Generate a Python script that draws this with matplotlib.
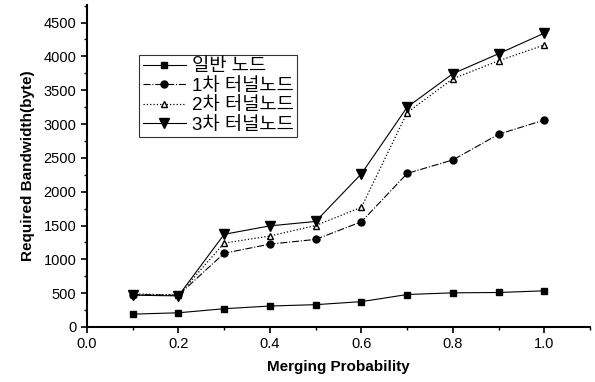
import matplotlib
matplotlib.use("Agg")
import matplotlib.pyplot as plt
from matplotlib.ticker import MultipleLocator

plt.rcParams['font.family'] = ['Liberation Sans', 'Noto Sans CJK KR', 'DejaVu Sans']

# merging probability
prob = [0.1, 0.2, 0.3, 0.4, 0.5, 0.6, 0.7, 0.8, 0.9, 1.0]

# required bandwidth (byte)
normal = [190, 210, 270, 310, 330, 375, 480, 505, 510, 535]
tunnel1 = [480, 470, 1090, 1225, 1295, 1555, 2270, 2470, 2850, 3060]
tunnel2 = [490, 470, 1240, 1345, 1500, 1770, 3170, 3670, 3935, 4170]
tunnel3 = [470, 460, 1370, 1495, 1560, 2265, 3250, 3745, 4040, 4345]

labels = ["일반 노드", "1차 터널노드", "2차 터널노드", "3차 터널노드"]

#-------------------------------------------------------------
fig = plt.figure(figsize=(5.95, 3.82), dpi=100)
ax = fig.add_axes([0.146, 0.144, 0.846, 0.843])

ax.plot(prob, normal, color="black", ls="-", lw=0.8,
        marker="s", ms=5, label=labels[0])
ax.plot(prob, tunnel1, color="black", ls="-.", lw=0.8,
        marker="o", ms=5, label=labels[1])
ax.plot(prob, tunnel2, color="black", ls=":", lw=0.9,
        marker="^", ms=5, mfc="white", mew=1.0, label=labels[2])
ax.plot(prob, tunnel3, color="black", ls="-", lw=0.8,
        marker="v", ms=7, label=labels[3])

ax.set_xlim(0, 1.1)
ax.set_ylim(0, 4760)
ax.xaxis.set_major_locator(MultipleLocator(0.2))
ax.xaxis.set_minor_locator(MultipleLocator(0.1))
ax.yaxis.set_major_locator(MultipleLocator(500))
ax.yaxis.set_minor_locator(MultipleLocator(250))
ax.xaxis.set_major_formatter(plt.FuncFormatter(lambda v, p: "%.1f" % v))

for s in ("top", "right"):
    ax.spines[s].set_visible(False)
for s in ("left", "bottom"):
    ax.spines[s].set_linewidth(1.5)

ax.tick_params(which="major", direction="out", length=4, width=1.2, labelsize=10.5)
ax.tick_params(which="minor", direction="out", length=2.5, width=1.0)

ax.set_xlabel("Merging Probability", fontsize=11, fontweight="bold", labelpad=6)
ax.set_ylabel("Required Bandwidth(byte)", fontsize=11, fontweight="bold", labelpad=6)

leg = ax.legend(loc="upper left", bbox_to_anchor=(0.085, 0.875),
                frameon=True, fancybox=False, edgecolor="black",
                handlelength=2.3, handletextpad=0.3, borderpad=0.2,
                labelspacing=0.12,
                prop={'family': ['Liberation Sans', 'Noto Sans CJK KR'], 'size': 13.5})
leg.get_frame().set_linewidth(0.8)

fig.savefig("out.png", dpi=100)
